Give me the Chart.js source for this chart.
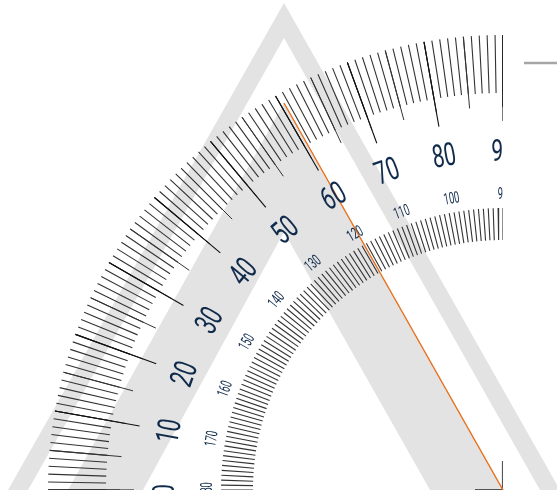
<!DOCTYPE html>
<html lang="en">
<head>
    <meta charset="UTF-8">
    <title>Protractor</title>
    <script src="https://cdn.jsdelivr.net/npm/chart.js"></script>
    <style>
        html, body { margin: 0; padding: 0; background: #fff; overflow: hidden; }
        canvas { display: block; }
    </style>
</head>
<body>
    <canvas id="protractor" width="557" height="493"></canvas>

    <script>
        // outer scale, degrees from the left end of the base
        const outerDegrees = [0,1,2,3,4,5,6,7,8,9,10,11,12,13,14,15,16,17,18,19,20,21,22,23,24,25,26,27,28,29,30,
            31,32,33,34,35,36,37,38,39,40,41,42,43,44,45,46,47,48,49,50,51,52,53,54,55,56,57,58,59,60,
            61,62,63,64,65,66,67,68,69,70,71,72,73,74,75,76,77,78,79,80,81,82,83,84,85,86,87,88,89,90];
        const outerFives = [0,5,10,15,20,25,30,35,40,45,50,55,60,65,70,75,80,85,90];
        const outerTens = [0,10,20,30,40,50,60,70,80,90];

        // inner scale runs the other way, 180 at the left end
        const innerDegrees = [90,91,92,93,94,95,96,97,98,99,100,101,102,103,104,105,106,107,108,109,110,
            111,112,113,114,115,116,117,118,119,120,121,122,123,124,125,126,127,128,129,130,
            131,132,133,134,135,136,137,138,139,140,141,142,143,144,145,146,147,148,149,150,
            151,152,153,154,155,156,157,158,159,160,161,162,163,164,165,166,167,168,169,170,
            171,172,173,174,175,176,177,178,179,180];
        const innerTens = [90,100,110,120,130,140,150,160,170,180];

        // radii of the ticks and labels
        const outerEdge = 455, minorEnd = 397, fiveEnd = 383, tenEnd = 369, outerLabelRadius = 337;
        const innerEdge = 282, innerEnd = 250, innerLabelRadius = 295;

        // the grey triangles, left foot / apex / right foot
        const bandOuterX = [-495, -219, 57],  bandOuterY = [0, 487, 0];
        const bandInnerX = [-475, -219, 37],  bandInnerY = [0, 452, 0];
        const wedgeOuterX = [-435, -219, 0],  wedgeOuterY = [0, 387, 0];
        const wedgeInnerX = [-360, -219, -73], wedgeInnerY = [0, 258, 0];

        const orangeX = [-219, 0],  orangeY = [387, 0];
        const cornerX = [-28, 0, 0], cornerY = [0, 0, 29];
        const dashX = [21, 54], dashY = [427, 427];

        const GREY = '#e3e3e3', TICK = '#333333', NAVY = '#0f2a4b';

        function pts(xs, ys) {
            return xs.map((x, i) => ({ x: x, y: ys[i] }));
        }

        // radial segments, separated by NaN so the line breaks between ticks
        function ticks(degrees, r0, r1) {
            const out = [];
            degrees.forEach(d => {
                const a = d * Math.PI / 180;
                out.push({ x: -r0 * Math.cos(a), y: r0 * Math.sin(a) });
                out.push({ x: -r1 * Math.cos(a), y: r1 * Math.sin(a) });
                out.push({ x: NaN, y: NaN });
            });
            return out;
        }

        function triangle(xs, ys, color) {
            return { data: pts(xs, ys), showLine: true, fill: 'origin', backgroundColor: color, borderWidth: 0, pointRadius: 0 };
        }

        // stops at the quadrant, the right of the centre is cut off
        const quadrant = { left: 0, top: 0, bottom: 0, right: -54 };

        function tickSet(data, width, color) {
            return { data: data, showLine: true, borderColor: color, borderWidth: width, pointRadius: 0, clip: quadrant };
        }

        const layers = [
            triangle(bandOuterX, bandOuterY, GREY),
            triangle(bandInnerX, bandInnerY, '#ffffff'),
            triangle(wedgeOuterX, wedgeOuterY, GREY),
            triangle(wedgeInnerX, wedgeInnerY, '#ffffff'),
            tickSet(ticks(outerDegrees, outerEdge, minorEnd), 1.1, TICK),
            tickSet(ticks(outerFives, outerEdge, fiveEnd), 1, TICK),
            tickSet(ticks(outerTens, outerEdge, tenEnd), 1.1, '#111111'),
            tickSet(ticks(innerDegrees.map(v => 180 - v), innerEdge, innerEnd), 1.1, TICK),
            { data: pts(cornerX, cornerY), showLine: true, borderColor: '#555555', borderWidth: 2.2, pointRadius: 0, clip: quadrant },
            { data: pts(orangeX, orangeY), showLine: true, borderColor: '#e8701a', borderWidth: 1.4, pointRadius: 0 },
            { data: pts(dashX, dashY), showLine: true, borderColor: '#a6a6a6', borderWidth: 2.6, pointRadius: 0 }
        ];
        layers.forEach((l, i) => { l.order = layers.length - i; });

        const scaleLabels = {
            id: 'scaleLabels',
            afterDatasetsDraw(chart) {
                const { ctx, scales: { x, y } } = chart;
                const draw = (text, deg, r, font, squeeze) => {
                    const a = deg * Math.PI / 180;
                    ctx.save();
                    ctx.translate(x.getPixelForValue(-r * Math.cos(a)), y.getPixelForValue(r * Math.sin(a)));
                    ctx.rotate((deg - 90) * Math.PI / 180);
                    ctx.scale(squeeze, 1);
                    ctx.font = font;
                    ctx.fillStyle = NAVY;
                    ctx.textAlign = 'center';
                    ctx.textBaseline = 'middle';
                    ctx.fillText(text, 0, 0);
                    ctx.restore();
                };
                ctx.save();
                ctx.beginPath();
                ctx.rect(0, 0, x.getPixelForValue(0), y.getPixelForValue(0));
                ctx.clip();
                outerTens.forEach(v => draw(String(v), v, outerLabelRadius, '32px Roboto', 0.66));
                innerTens.forEach(v => draw(String(v), 180 - v, innerLabelRadius, '16px Roboto', 0.58));
                ctx.restore();
            }
        };

        new Chart(document.getElementById('protractor'), {
            type: 'scatter',
            data: { datasets: layers },
            plugins: [scaleLabels],
            options: {
                responsive: false,
                animation: false,
                layout: { padding: { bottom: 3 } },
                plugins: { legend: { display: false }, tooltip: { enabled: false } },
                scales: {
                    x: { type: 'linear', display: false, min: -503, max: 54 },
                    y: { type: 'linear', display: false, min: 0, max: 490 }
                }
            }
        });
    </script>
</body>
</html>
